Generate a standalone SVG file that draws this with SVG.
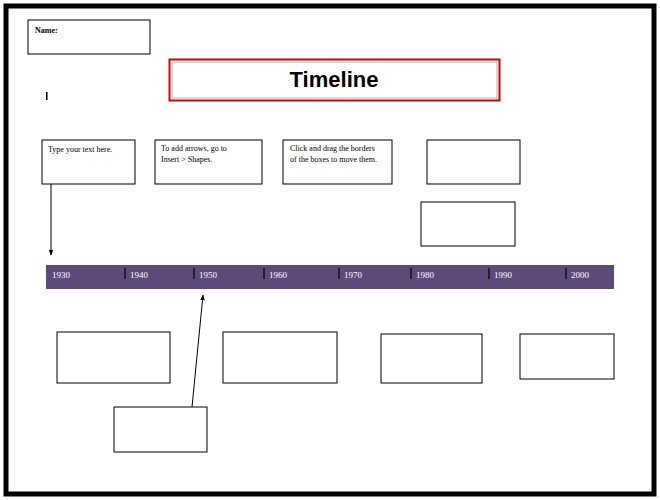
<svg xmlns="http://www.w3.org/2000/svg" width="660" height="500" viewBox="0 0 660 500">
<defs>
<style>
.box{fill:#fff;stroke:#000;stroke-width:1}
.t{font-family:"Liberation Serif",serif;font-size:8px;fill:#000}
.yr{font-family:"Liberation Serif",serif;font-size:9px;fill:#fff}
.tick{stroke:#111;stroke-width:1.5}
.con{stroke:#000;stroke-width:1;fill:none}
</style>
<marker id="ah" viewBox="0 0 10 10" refX="9" refY="5" markerWidth="6" markerHeight="6" orient="auto"><path d="M0,1 L10,5 L0,9 Z" fill="#000"/></marker>
</defs>
<rect x="0" y="0" width="660" height="500" fill="#fff"/>
<rect x="6" y="6" width="648" height="488" fill="#fff" stroke="#000" stroke-width="5"/>
<g id="name"><rect class="box" x="28" y="20" width="122" height="34"/><text x="35" y="33" class="t" font-weight="bold" font-size="9">Name:</text></g>
<g id="title"><rect x="169.5" y="59.5" width="330" height="41" fill="#fff" stroke="#b01010" stroke-width="2"/><rect x="172" y="62" width="325" height="36" fill="none" stroke="#e0a0a0" stroke-width="1"/><text x="334" y="87" text-anchor="middle" font-family="Liberation Sans,sans-serif" font-size="22" font-weight="bold">Timeline</text></g>
<rect x="46" y="92" width="1.5" height="8" fill="#000"/>
<g id="b1"><rect class="box" x="42" y="140" width="93" height="44"/><text x="48" y="152" class="t">Type your text here.</text></g>
<g id="b2"><rect class="box" x="155" y="140" width="107" height="44"/><text x="161" y="151" class="t">To add arrows, go to</text><text x="161" y="162" class="t">Insert &gt; Shapes.</text></g>
<g id="b3"><rect class="box" x="283" y="140" width="109" height="44"/><text x="290" y="151" class="t">Click and drag the borders</text><text x="290" y="162" class="t">of the boxes to move them.</text></g>
<g id="b4"><rect class="box" x="427" y="140" width="93" height="44"/></g>
<g id="b5"><rect class="box" x="421" y="202" width="94" height="44"/></g>
<g id="bar">
<rect x="46" y="265" width="568" height="24" fill="#5e4a7a"/>
<path class="tick" d="M125,268v11M194,268v11M264,268v11M339,268v11M411,268v11M489,268v11M566,268v11"/>
<text class="yr" x="52" y="278">1930</text><text class="yr" x="130" y="278">1940</text><text class="yr" x="199" y="278">1950</text><text class="yr" x="269" y="278">1960</text><text class="yr" x="344" y="278">1970</text><text class="yr" x="416" y="278">1980</text><text class="yr" x="494" y="278">1990</text><text class="yr" x="571" y="278">2000</text>
</g>
<g id="b6"><rect class="box" x="57" y="332" width="113" height="51"/></g>
<g id="b7"><rect class="box" x="223" y="332" width="114" height="51"/></g>
<g id="b8"><rect class="box" x="381" y="334" width="101" height="49"/></g>
<g id="b9"><rect class="box" x="520" y="334" width="94" height="45"/></g>
<g id="b10"><rect class="box" x="114" y="407" width="93" height="45"/></g>
<g id="connectors">
<line class="con" x1="51" y1="184" x2="51" y2="255" marker-end="url(#ah)"/>
<line class="con" x1="192" y1="407" x2="203" y2="295" marker-end="url(#ah)"/>
</g>
</svg>
